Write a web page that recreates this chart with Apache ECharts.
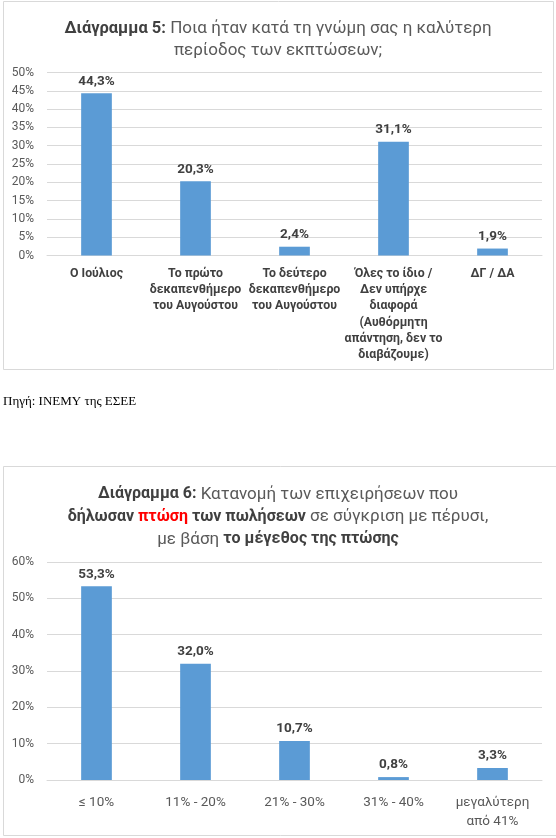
<!DOCTYPE html>
<html>
<head>
<meta charset="utf-8">
<script src="https://cdn.jsdelivr.net/npm/echarts@6/dist/echarts.min.js"></script>
<style>
html,body{margin:0;padding:0;background:#fff;}
#c{width:556px;height:838px;}
</style>
</head>
<body>
<div id="c"></div>
<script>
// Chart 5
var categories5 = ['Ο Ιούλιος', 'Το πρώτο\nδεκαπενθήμερο\nτου Αυγούστου', 'Το δεύτερο\nδεκαπενθήμερο\nτου Αυγούστου', 'Όλες το ίδιο /\nΔεν υπήρχε\nδιαφορά\n(Αυθόρμητη\nαπάντηση, δεν το\nδιαβάζουμε)', 'ΔΓ / ΔΑ'];
var values5 = [44.3, 20.3, 2.4, 31.1, 1.9];
var yMax5 = 50, yStep5 = 5;
// Chart 6
var categories6 = ['≤ 10%', '11% - 20%', '21% - 30%', '31% - 40%', 'μεγαλύτερη\nαπό 41%'];
var values6 = [53.3, 32.0, 10.7, 0.8, 3.3];
var yMax6 = 60, yStep6 = 10;

var FONT = 'Roboto, "Noto Sans", sans-serif';
var BAR = '#5B9BD5';
var fmt = function (p) { return p.value.toFixed(1).replace('.', ',') + '%'; };

var chart = echarts.init(document.getElementById('c'), null, {renderer: 'canvas'});
chart.setOption({
  backgroundColor: '#fff',
  animation: false,
  textStyle: {fontFamily: FONT},
  title: [
    {
      text: '{b|Διάγραμμα 5:} Ποια ήταν κατά τη γνώμη σας η καλύτερη\nπερίοδος των εκπτώσεων;',
      left: 'center', top: 13,
      textStyle: {
        fontFamily: FONT, fontSize: 17, fontWeight: 'normal', color: '#595959', lineHeight: 22,
        rich: {b: {fontFamily: FONT, fontSize: 16.5, fontWeight: 'bold', color: '#404040', lineHeight: 22}}
      }
    },
    {
      text: '{b|Διάγραμμα 6:} Κατανομή των επιχειρήσεων που\n{b|δήλωσαν }{r|πτώση}{b| των πωλήσεων} σε σύγκριση με πέρυσι,\nμε βάση {b|το μέγεθος της πτώσης}',
      left: 'center', top: 478,
      textStyle: {
        fontFamily: FONT, fontSize: 17, fontWeight: 'normal', color: '#595959', lineHeight: 22.5,
        rich: {
          b: {fontFamily: FONT, fontSize: 16, fontWeight: 'bold', color: '#404040', lineHeight: 22.5},
          r: {fontFamily: FONT, fontSize: 16, fontWeight: 'bold', color: '#FF0000', lineHeight: 22.5}
        }
      }
    }
  ],
  graphic: [
    {type: 'rect', shape: {x: 3.5, y: 1.5, width: 550, height: 368}, style: {fill: 'none', stroke: '#D9D9D9', lineWidth: 1}, silent: true},
    {type: 'rect', shape: {x: 3.5, y: 466.5, width: 560, height: 369}, style: {fill: 'none', stroke: '#D9D9D9', lineWidth: 1}, silent: true},
    {type: 'text', left: 3, top: 395, style: {text: 'Πηγή: ΙΝΕΜΥ της ΕΣΕΕ', font: '13px "Liberation Serif", "DejaVu Serif", serif', fill: '#000'}, silent: true}
  ],
  grid: [
    {left: 47, right: 14, top: 72.5, height: 183, containLabel: false},
    {left: 47, right: 14, top: 562, height: 218, containLabel: false}
  ],
  xAxis: [
    {
      type: 'category', gridIndex: 0, data: categories5,
      axisLine: {lineStyle: {color: '#D9D9D9'}}, axisTick: {show: false},
      axisLabel: {interval: 0, margin: 10, color: '#404040', fontFamily: FONT, fontSize: 12.3, fontWeight: 'bold', lineHeight: 16.3}
    },
    {
      type: 'category', gridIndex: 1, data: categories6,
      axisLine: {lineStyle: {color: '#D9D9D9'}}, axisTick: {show: false},
      axisLabel: {interval: 0, margin: 13, color: '#595959', fontFamily: FONT, fontSize: 13.5, lineHeight: 19}
    }
  ],
  yAxis: [
    {
      type: 'value', gridIndex: 0, min: 0, max: yMax5, interval: yStep5,
      axisLine: {show: false}, axisTick: {show: false},
      splitLine: {lineStyle: {color: '#D9D9D9'}},
      axisLabel: {formatter: '{value}%', margin: 13, color: '#595959', fontFamily: FONT, fontSize: 12}
    },
    {
      type: 'value', gridIndex: 1, min: 0, max: yMax6, interval: yStep6,
      axisLine: {show: false}, axisTick: {show: false},
      splitLine: {lineStyle: {color: '#D9D9D9'}},
      axisLabel: {formatter: '{value}%', margin: 13, color: '#595959', fontFamily: FONT, fontSize: 12}
    }
  ],
  series: [
    {
      type: 'bar', xAxisIndex: 0, yAxisIndex: 0, data: values5, barWidth: '31%',
      itemStyle: {color: BAR},
      label: {show: true, position: 'top', distance: 5, formatter: fmt, color: '#404040', fontFamily: FONT, fontSize: 13.5, fontWeight: 'bold'}
    },
    {
      type: 'bar', xAxisIndex: 1, yAxisIndex: 1, data: values6, barWidth: '31%',
      itemStyle: {color: BAR},
      label: {show: true, position: 'top', distance: 5, formatter: fmt, color: '#404040', fontFamily: FONT, fontSize: 13.5, fontWeight: 'bold'}
    }
  ]
});
</script>
</body>
</html>
